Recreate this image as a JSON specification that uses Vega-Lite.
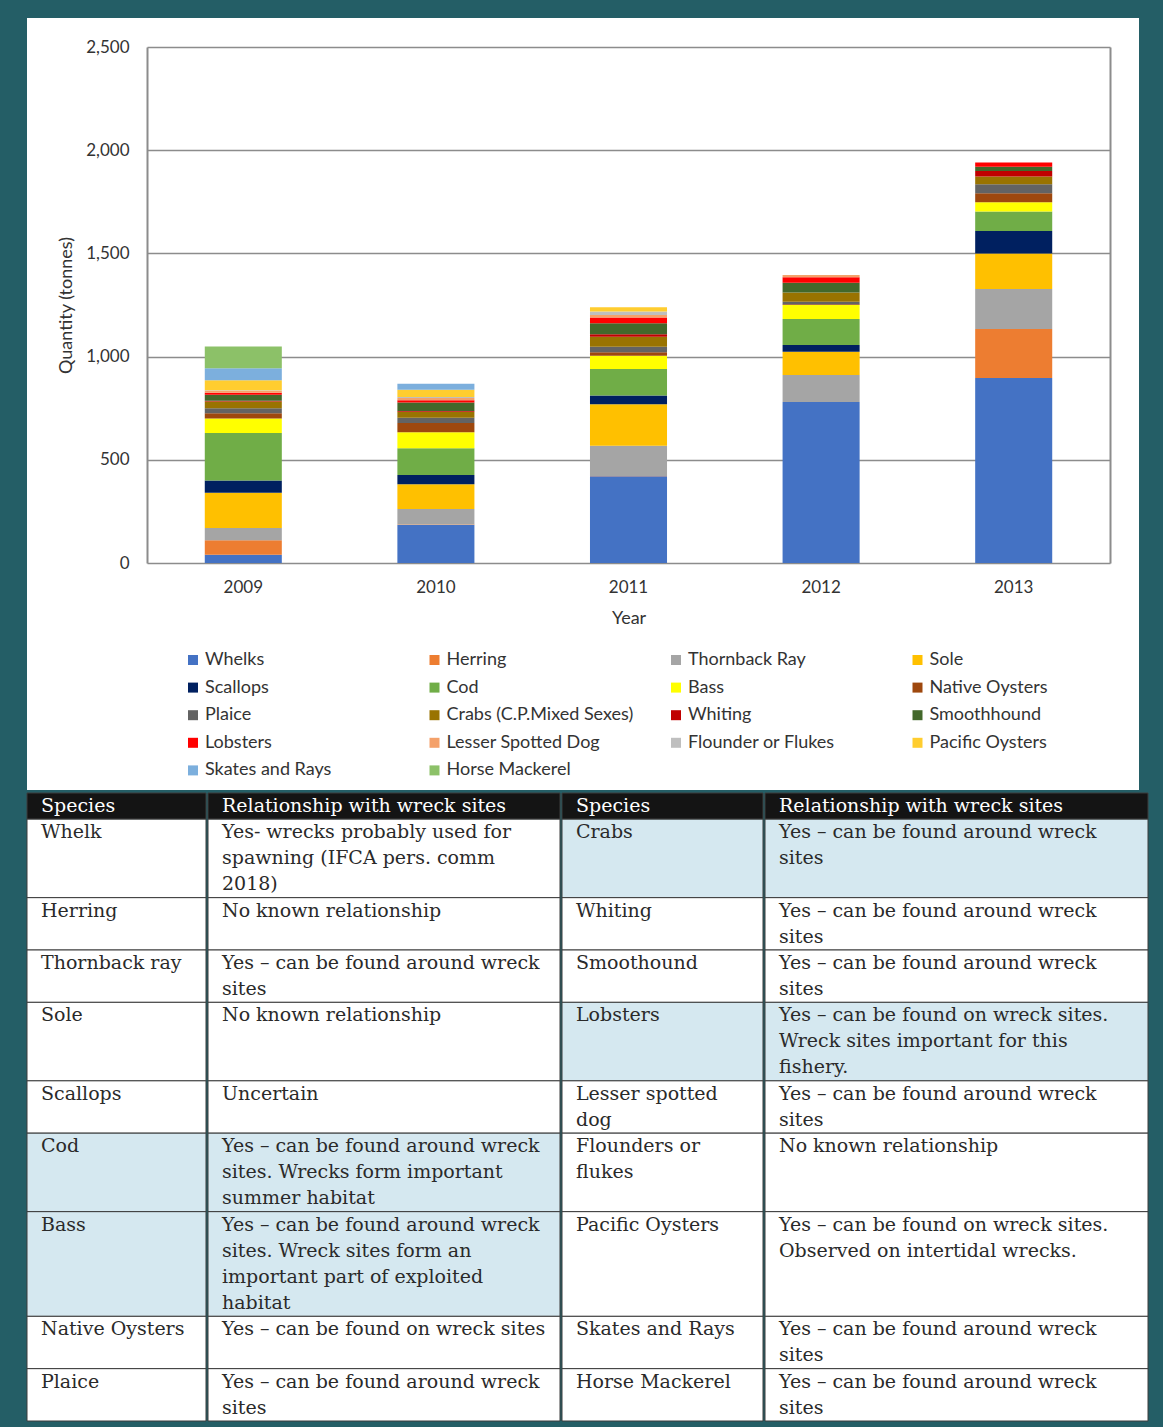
{
  "$schema": "https://vega.github.io/schema/vega-lite/v6.json",
  "background": "#245e66",
  "padding": {"left": 26, "top": 18, "right": 16, "bottom": 7},
  "config": {"font": "Lato", "view": {"stroke": null}},
  "spacing": 2,
  "vconcat": [
    {
      "width": 1112,
      "height": 772,
      "view": {"fill": "white", "stroke": null},
      "data": {
        "values": [
          {"year": "2009", "species": "Whelks", "tonnes": 40},
          {"year": "2009", "species": "Herring", "tonnes": 70},
          {"year": "2009", "species": "Thornback Ray", "tonnes": 60},
          {"year": "2009", "species": "Sole", "tonnes": 170},
          {"year": "2009", "species": "Scallops", "tonnes": 60},
          {"year": "2009", "species": "Cod", "tonnes": 230},
          {"year": "2009", "species": "Bass", "tonnes": 70},
          {"year": "2009", "species": "Native Oysters", "tonnes": 25},
          {"year": "2009", "species": "Plaice", "tonnes": 25},
          {"year": "2009", "species": "Crabs (C.P.Mixed Sexes)", "tonnes": 33},
          {"year": "2009", "species": "Whiting", "tonnes": 3},
          {"year": "2009", "species": "Smoothhound", "tonnes": 29},
          {"year": "2009", "species": "Lobsters", "tonnes": 10},
          {"year": "2009", "species": "Lesser Spotted Dog", "tonnes": 10},
          {"year": "2009", "species": "Flounder or Flukes", "tonnes": 2},
          {"year": "2009", "species": "Pacific Oysters", "tonnes": 48},
          {"year": "2009", "species": "Skates and Rays", "tonnes": 59},
          {"year": "2009", "species": "Horse Mackerel", "tonnes": 105},
          {"year": "2010", "species": "Whelks", "tonnes": 184},
          {"year": "2010", "species": "Herring", "tonnes": 2},
          {"year": "2010", "species": "Thornback Ray", "tonnes": 76},
          {"year": "2010", "species": "Sole", "tonnes": 119},
          {"year": "2010", "species": "Scallops", "tonnes": 45},
          {"year": "2010", "species": "Cod", "tonnes": 130},
          {"year": "2010", "species": "Bass", "tonnes": 77},
          {"year": "2010", "species": "Native Oysters", "tonnes": 45},
          {"year": "2010", "species": "Plaice", "tonnes": 26},
          {"year": "2010", "species": "Crabs (C.P.Mixed Sexes)", "tonnes": 29},
          {"year": "2010", "species": "Whiting", "tonnes": 3},
          {"year": "2010", "species": "Smoothhound", "tonnes": 42},
          {"year": "2010", "species": "Lobsters", "tonnes": 10},
          {"year": "2010", "species": "Lesser Spotted Dog", "tonnes": 11},
          {"year": "2010", "species": "Flounder or Flukes", "tonnes": 5},
          {"year": "2010", "species": "Pacific Oysters", "tonnes": 35},
          {"year": "2010", "species": "Skates and Rays", "tonnes": 29},
          {"year": "2011", "species": "Whelks", "tonnes": 420},
          {"year": "2011", "species": "Herring", "tonnes": 2},
          {"year": "2011", "species": "Thornback Ray", "tonnes": 146},
          {"year": "2011", "species": "Sole", "tonnes": 201},
          {"year": "2011", "species": "Scallops", "tonnes": 42},
          {"year": "2011", "species": "Cod", "tonnes": 129},
          {"year": "2011", "species": "Bass", "tonnes": 64},
          {"year": "2011", "species": "Native Oysters", "tonnes": 17},
          {"year": "2011", "species": "Plaice", "tonnes": 27},
          {"year": "2011", "species": "Crabs (C.P.Mixed Sexes)", "tonnes": 48},
          {"year": "2011", "species": "Whiting", "tonnes": 12},
          {"year": "2011", "species": "Smoothhound", "tonnes": 53},
          {"year": "2011", "species": "Lobsters", "tonnes": 29},
          {"year": "2011", "species": "Lesser Spotted Dog", "tonnes": 11},
          {"year": "2011", "species": "Flounder or Flukes", "tonnes": 17},
          {"year": "2011", "species": "Pacific Oysters", "tonnes": 21},
          {"year": "2012", "species": "Whelks", "tonnes": 780},
          {"year": "2012", "species": "Thornback Ray", "tonnes": 131},
          {"year": "2012", "species": "Sole", "tonnes": 113},
          {"year": "2012", "species": "Scallops", "tonnes": 32},
          {"year": "2012", "species": "Cod", "tonnes": 126},
          {"year": "2012", "species": "Bass", "tonnes": 68},
          {"year": "2012", "species": "Native Oysters", "tonnes": 4},
          {"year": "2012", "species": "Plaice", "tonnes": 12},
          {"year": "2012", "species": "Crabs (C.P.Mixed Sexes)", "tonnes": 45},
          {"year": "2012", "species": "Smoothhound", "tonnes": 47},
          {"year": "2012", "species": "Lobsters", "tonnes": 26},
          {"year": "2012", "species": "Lesser Spotted Dog", "tonnes": 11},
          {"year": "2013", "species": "Whelks", "tonnes": 896},
          {"year": "2013", "species": "Herring", "tonnes": 238},
          {"year": "2013", "species": "Thornback Ray", "tonnes": 194},
          {"year": "2013", "species": "Sole", "tonnes": 172},
          {"year": "2013", "species": "Scallops", "tonnes": 109},
          {"year": "2013", "species": "Cod", "tonnes": 94},
          {"year": "2013", "species": "Bass", "tonnes": 45},
          {"year": "2013", "species": "Native Oysters", "tonnes": 43},
          {"year": "2013", "species": "Plaice", "tonnes": 44},
          {"year": "2013", "species": "Crabs (C.P.Mixed Sexes)", "tonnes": 37},
          {"year": "2013", "species": "Whiting", "tonnes": 27},
          {"year": "2013", "species": "Smoothhound", "tonnes": 21},
          {"year": "2013", "species": "Lobsters", "tonnes": 21}
        ]
      },
      "transform": [
        {"calculate": "indexof(['Whelks', 'Herring', 'Thornback Ray', 'Sole', 'Scallops', 'Cod', 'Bass', 'Native Oysters', 'Plaice', 'Crabs (C.P.Mixed Sexes)', 'Whiting', 'Smoothhound', 'Lobsters', 'Lesser Spotted Dog', 'Flounder or Flukes', 'Pacific Oysters', 'Skates and Rays', 'Horse Mackerel'], datum.species)", "as": "stack_rank"}
      ],
      "resolve": {"axis": {"y": "independent"}},
      "layer": [
        {
          "mark": {"type": "bar"},
          "encoding": {
            "x": {
              "field": "year",
              "type": "nominal",
              "scale": {"range": [120, 1083], "paddingInner": 0.6, "paddingOuter": 0.3},
              "axis": {
                "title": "Year",
                "offset": -227,
                "labelAngle": 0,
                "domain": false,
                "ticks": false,
                "tickSize": 0,
                "labelPadding": 16,
                "labelFontSize": 17,
                "labelColor": "#333333",
                "titleFontSize": 18,
                "titleFontWeight": "normal",
                "titleColor": "#333333",
                "titlePadding": 14
              }
            },
            "y": {
              "field": "tonnes",
              "type": "quantitative",
              "stack": "zero",
              "scale": {"domain": [0, 2500], "range": [545, 29], "nice": false},
              "axis": {
                "title": "Quantity (tonnes)",
                "offset": -120,
                "values": [0, 500, 1000, 1500, 2000, 2500],
                "format": ",d",
                "grid": true,
                "gridColor": "#8c8c8c",
                "gridWidth": 1.5,
                "domain": true,
                "domainColor": "#8c8c8c",
                "domainWidth": 2,
                "ticks": false,
                "tickSize": 0,
                "labelPadding": 18,
                "labelFontSize": 17,
                "labelColor": "#333333",
                "titleFontSize": 18,
                "titleFontWeight": "normal",
                "titleColor": "#333333",
                "titlePadding": 10
              }
            },
            "order": {"field": "stack_rank", "type": "quantitative", "sort": "ascending"},
            "color": {
              "field": "species",
              "type": "nominal",
              "scale": {
                "domain": ["Whelks", "Herring", "Thornback Ray", "Sole", "Scallops", "Cod", "Bass", "Native Oysters", "Plaice", "Crabs (C.P.Mixed Sexes)", "Whiting", "Smoothhound", "Lobsters", "Lesser Spotted Dog", "Flounder or Flukes", "Pacific Oysters", "Skates and Rays", "Horse Mackerel"],
                "range": ["#4472c4", "#ed7d31", "#a5a5a5", "#ffc000", "#002060", "#70ad47", "#ffff00", "#9e480e", "#636363", "#997300", "#c00000", "#43682b", "#ff0000", "#f4a16a", "#bfbfbf", "#ffcd2f", "#7cafdd", "#8cc168"]
              },
              "legend": {
                "title": null,
                "orient": "none",
                "direction": "horizontal",
                "legendX": 157,
                "legendY": 633,
                "columns": 4,
                "gridAlign": "all",
                "columnPadding": 33.5,
                "rowPadding": 9.6,
                "padding": 0,
                "symbolType": "square",
                "symbolSize": 100,
                "symbolStrokeWidth": 0,
                "labelOffset": 3,
                "labelFontSize": 18,
                "labelColor": "#333333",
                "labelLimit": 260
              }
            }
          }
        },
        {
          "mark": {"type": "rule", "opacity": 0},
          "encoding": {
            "y": {
              "datum": 0,
              "type": "quantitative",
              "axis": {
                "title": null,
                "orient": "right",
                "offset": -29,
                "labels": false,
                "ticks": false,
                "grid": false,
                "domain": true,
                "domainColor": "#8c8c8c",
                "domainWidth": 2
              }
            }
          }
        }
      ]
    },
    {
      "data": {
        "values": [
          {"row": 0, "ls": "Species", "lr": "Relationship with wreck sites", "rs": "Species", "rr": "Relationship with wreck sites"},
          {"row": 1, "ls": "Whelk", "lr": ["Yes- wrecks probably used for", "spawning (IFCA pers. comm", "2018)"], "rs": "Crabs", "rr": ["Yes – can be found around wreck", "sites"]},
          {"row": 2, "ls": "Herring", "lr": "No known relationship", "rs": "Whiting", "rr": ["Yes – can be found around wreck", "sites"]},
          {"row": 3, "ls": "Thornback ray", "lr": ["Yes – can be found around wreck", "sites"], "rs": "Smoothound", "rr": ["Yes – can be found around wreck", "sites"]},
          {"row": 4, "ls": "Sole", "lr": "No known relationship", "rs": "Lobsters", "rr": ["Yes – can be found on wreck sites.", "Wreck sites important for this", "fishery."]},
          {"row": 5, "ls": "Scallops", "lr": "Uncertain", "rs": ["Lesser spotted", "dog"], "rr": ["Yes – can be found around wreck", "sites"]},
          {"row": 6, "ls": "Cod", "lr": ["Yes – can be found around wreck", "sites. Wrecks form important", "summer habitat"], "rs": ["Flounders or", "flukes"], "rr": "No known relationship"},
          {"row": 7, "ls": "Bass", "lr": ["Yes – can be found around wreck", "sites. Wreck sites form an", "important part of exploited", "habitat"], "rs": "Pacific Oysters", "rr": ["Yes – can be found on wreck sites.", "Observed on intertidal wrecks."]},
          {"row": 8, "ls": "Native Oysters", "lr": "Yes – can be found on wreck sites", "rs": "Skates and Rays", "rr": ["Yes – can be found around wreck", "sites"]},
          {"row": 9, "ls": "Plaice", "lr": ["Yes – can be found around wreck", "sites"], "rs": "Horse Mackerel", "rr": ["Yes – can be found around wreck", "sites"]}
        ]
      },
      "transform": [
        {"calculate": "max(isArray(datum.ls) ? length(datum.ls) : 1, isArray(datum.lr) ? length(datum.lr) : 1, isArray(datum.rs) ? length(datum.rs) : 1, isArray(datum.rr) ? length(datum.rr) : 1)", "as": "lines"},
        {"window": [{"op": "sum", "field": "lines", "as": "end"}], "sort": [{"field": "row"}]},
        {"calculate": "datum.end - datum.lines", "as": "start"}
      ],
      "spacing": 0,
      "hconcat": [
        {
          "width": 179,
          "height": 628,
          "layer": [
            {
              "mark": {"type": "rect", "stroke": "#3c3c3c", "strokeWidth": 1},
              "encoding": {
                "y": {"field": "start", "type": "quantitative", "scale": {"domain": [0, 24], "reverse": true, "nice": false, "zero": false}, "axis": null},
                "y2": {"field": "end"},
                "x": {"value": 0},
                "x2": {"value": "width"},
                "fill": {"condition": [{"test": "datum.row === 0", "value": "#141414"}, {"test": "datum.ls === 'Cod' || datum.ls === 'Bass'", "value": "#d5e8f0"}], "value": "white"}
              }
            },
            {
              "mark": {"type": "text", "align": "left", "baseline": "alphabetic", "font": "DejaVu Serif", "fontSize": 19, "lineHeight": 26, "dy": 19},
              "encoding": {
                "y": {"field": "start", "type": "quantitative"},
                "x": {"value": 14},
                "text": {"field": "ls"},
                "color": {"condition": {"test": "datum.row === 0", "value": "white"}, "value": "#2a2a2a"}
              }
            }
          ]
        },
        {
          "width": 352,
          "height": 628,
          "layer": [
            {
              "mark": {"type": "rect", "stroke": "#3c3c3c", "strokeWidth": 1},
              "encoding": {
                "y": {"field": "start", "type": "quantitative", "scale": {"domain": [0, 24], "reverse": true, "nice": false, "zero": false}, "axis": null},
                "y2": {"field": "end"},
                "x": {"value": 0},
                "x2": {"value": "width"},
                "fill": {"condition": [{"test": "datum.row === 0", "value": "#141414"}, {"test": "datum.ls === 'Cod' || datum.ls === 'Bass'", "value": "#d5e8f0"}], "value": "white"}
              }
            },
            {
              "mark": {"type": "text", "align": "left", "baseline": "alphabetic", "font": "DejaVu Serif", "fontSize": 19, "lineHeight": 26, "dy": 19},
              "encoding": {
                "y": {"field": "start", "type": "quantitative"},
                "x": {"value": 14},
                "text": {"field": "lr"},
                "color": {"condition": {"test": "datum.row === 0", "value": "white"}, "value": "#2a2a2a"}
              }
            }
          ]
        },
        {
          "width": 201,
          "height": 628,
          "layer": [
            {
              "mark": {"type": "rect", "stroke": "#3c3c3c", "strokeWidth": 1},
              "encoding": {
                "y": {"field": "start", "type": "quantitative", "scale": {"domain": [0, 24], "reverse": true, "nice": false, "zero": false}, "axis": null},
                "y2": {"field": "end"},
                "x": {"value": 0},
                "x2": {"value": "width"},
                "fill": {"condition": [{"test": "datum.row === 0", "value": "#141414"}, {"test": "datum.rs === 'Crabs' || datum.rs === 'Lobsters'", "value": "#d5e8f0"}], "value": "white"}
              }
            },
            {
              "mark": {"type": "text", "align": "left", "baseline": "alphabetic", "font": "DejaVu Serif", "fontSize": 19, "lineHeight": 26, "dy": 19},
              "encoding": {
                "y": {"field": "start", "type": "quantitative"},
                "x": {"value": 14},
                "text": {"field": "rs"},
                "color": {"condition": {"test": "datum.row === 0", "value": "white"}, "value": "#2a2a2a"}
              }
            }
          ]
        },
        {
          "width": 383,
          "height": 628,
          "layer": [
            {
              "mark": {"type": "rect", "stroke": "#3c3c3c", "strokeWidth": 1},
              "encoding": {
                "y": {"field": "start", "type": "quantitative", "scale": {"domain": [0, 24], "reverse": true, "nice": false, "zero": false}, "axis": null},
                "y2": {"field": "end"},
                "x": {"value": 0},
                "x2": {"value": "width"},
                "fill": {"condition": [{"test": "datum.row === 0", "value": "#141414"}, {"test": "datum.rs === 'Crabs' || datum.rs === 'Lobsters'", "value": "#d5e8f0"}], "value": "white"}
              }
            },
            {
              "mark": {"type": "text", "align": "left", "baseline": "alphabetic", "font": "DejaVu Serif", "fontSize": 19, "lineHeight": 26, "dy": 19},
              "encoding": {
                "y": {"field": "start", "type": "quantitative"},
                "x": {"value": 14},
                "text": {"field": "rr"},
                "color": {"condition": {"test": "datum.row === 0", "value": "white"}, "value": "#2a2a2a"}
              }
            }
          ]
        }
      ]
    }
  ]
}
